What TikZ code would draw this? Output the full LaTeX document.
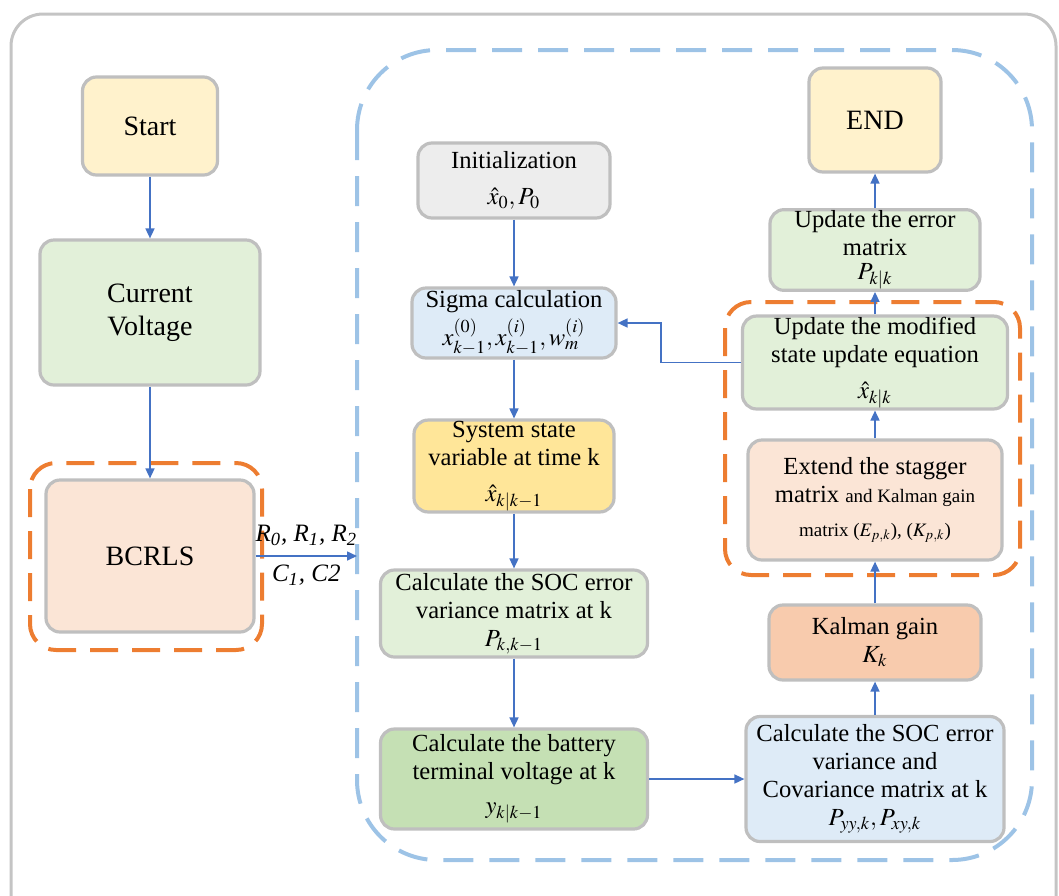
\documentclass[tikz,border=0pt]{standalone}
\usepackage{mathptmx}
\usepackage{fontspec}
\setmainfont{Liberation Serif}
\usepackage{tikz}
\usepackage{xcolor}
\usetikzlibrary{arrows.meta, calc, positioning}

\definecolor{edgegray}{HTML}{BFBFBF}
\definecolor{framegray}{HTML}{C4C4C4}
\definecolor{paleyellow}{HTML}{FFF2CC}
\definecolor{palegreen}{HTML}{E2F0D9}
\definecolor{midgreen}{HTML}{C5E0B4}
\definecolor{palepeach}{HTML}{FBE5D6}
\definecolor{peach}{HTML}{F8CBAD}
\definecolor{palegray}{HTML}{EDEDED}
\definecolor{paleblue}{HTML}{DEEBF7}
\definecolor{gold}{HTML}{FFE699}
\definecolor{dashblue}{HTML}{9DC3E6}
\definecolor{dashorange}{HTML}{ED7D31}
\definecolor{flowblue}{HTML}{4472C4}

\begin{document}
\begin{tikzpicture}[x=0.5pt,y=-0.5pt,
    box/.style={draw=edgegray, line width=1.6pt, rounded corners=7pt, align=center,
        inner sep=0.5pt, font=\fontsize{12.3}{14}\selectfont},
    bigbox/.style={box, font=\fontsize{14}{16.5}\selectfont},
    flow/.style={flowblue, line width=0.8pt, -{Triangle[length=5pt,width=4.5pt]}},
    paramlabel/.style={text=black, inner sep=1pt, font=\fontsize{12.5}{14}\selectfont\itshape},
    groupblue/.style={dashblue, line width=2pt, dash pattern=on 15pt off 8pt, rounded corners=40pt},
    grouporange/.style={dashorange, line width=2pt, dash pattern=on 14pt off 7pt, rounded corners=13pt}]
    \useasboundingbox (0,0) rectangle (1059,895);

    % outer frame
    \begin{scope}
        \clip (0,0) rectangle (1059,895);
        \draw[framegray, line width=1.5pt, rounded corners=16pt] (11,14) rectangle (1056,940);
    \end{scope}

    % dashed groups
    \draw[groupblue] (357,50) rectangle (1032,860);
    \draw[grouporange] (30,463) rectangle (262,650);
    \draw[grouporange] (725,302) rectangle (1020,575);

    % left column
    \node[bigbox, fill=paleyellow, minimum width=67.5pt, minimum height=49pt] (start) at (150,126) {Start};
    \node[bigbox, fill=palegreen, minimum width=110pt, minimum height=72.5pt] (cv) at (150,312.5) {Current\\Voltage};
    \node[bigbox, fill=palepeach, minimum width=104pt, minimum height=76pt] (bcrls) at (150,556) {BCRLS};

    % middle column
    \node[box, fill=palegray, minimum width=96pt, minimum height=37.5pt] (init) at (514,180.5)
        {Initialization\\[4pt]$\hat{x}_0 , P_0$};
    \node[box, fill=paleblue, minimum width=102pt, minimum height=35pt] (sigma) at (514,323)
        {Sigma calculation\\[2pt]$x_{k-1}^{(0)}, x_{k-1}^{(i)}, w_m^{(i)}$};
    \node[box, fill=gold, minimum width=100pt, minimum height=44pt] (sys) at (514,466)
        {System state\\variable at time k\\[4pt]$\hat{x}_{k|k-1}$};
    \node[box, fill=palegreen, minimum width=133.5pt, minimum height=43.5pt] (socv) at (514,613.5)
        {Calculate the SOC error\\variance matrix at k\\$P_{k,k-1}$};
    \node[box, fill=midgreen, minimum width=133.5pt, minimum height=50pt] (batt) at (514,779)
        {Calculate the battery\\terminal voltage at k\\[3pt]$y_{k|k-1}$};

    % right column
    \node[box, fill=paleblue, minimum width=129pt, minimum height=62.5pt] (cov) at (875,779)
        {Calculate the SOC error\\variance and\\Covariance matrix at k\\$P_{yy,k}, P_{xy,k}$};
    \node[box, fill=peach, minimum width=106pt, minimum height=37.5pt] (kal) at (875,642.5)
        {Kalman gain\\$K_k$};
    \node[box, fill=palepeach, minimum width=127pt, minimum height=60pt] (ext) at (875,500)
        {Extend the stagger\\matrix {\fontsize{9.5}{12}\selectfont and Kalman gain}\\[3pt]
         {\fontsize{9.5}{12}\selectfont matrix ($E_{p,k}$), ($K_{p,k}$)}};
    \node[box, fill=palegreen, minimum width=132.5pt, minimum height=44.5pt] (upd) at (875,362.5)
        {Update the modified\\state update equation\\[4pt]$\hat{x}_{k|k}$};
    \node[box, fill=palegreen, minimum width=105pt, minimum height=40pt] (uerr) at (875,250)
        {Update the error\\matrix\\[-2pt]$P_{k|k}$};
    \node[bigbox, fill=paleyellow, minimum width=66pt, minimum height=52pt] (fin) at (875,120) {END};

    \coordinate (into) at (357,556);
    \coordinate (fb) at (661,362.5);

    % connectors
    \draw[flow] (start) -- (cv);
    \draw[flow] (cv) -- (bcrls);
    \draw[flow] (bcrls.east) -- (into)
        node[midway, above, yshift=4pt, paramlabel]
            {R\textsubscript{0}, R\textsubscript{1}, R\textsubscript{2}}
        node[midway, below, yshift=-3pt, paramlabel]
            {C\textsubscript{1}, C2};
    \draw[flow] (init) -- (sigma);
    \draw[flow] (sigma) -- (sys);
    \draw[flow] (sys) -- (socv);
    \draw[flow] (socv) -- (batt);
    \draw[flow] (batt) -- (cov);
    \draw[flow] (cov) -- (kal);
    \draw[flow] (kal) -- (ext);
    \draw[flow] (ext) -- (upd);
    \draw[flow] (upd) -- (uerr);
    \draw[flow] (uerr) -- (fin);
    \draw[flow] (upd.west) -- (fb) |- (sigma.east);
\end{tikzpicture}
\end{document}
